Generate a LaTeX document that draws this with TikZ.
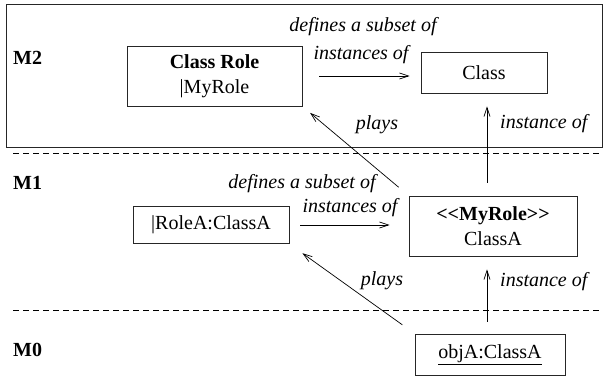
\documentclass[tikz,border=0pt]{standalone}
\usepackage{fontspec}
\setmainfont{Liberation Serif}
\usetikzlibrary{arrows.meta}
\begin{document}
\begin{tikzpicture}[x=1pt,y=-1pt]
	\tikzstyle{metabox} = [draw=black!85,line width=0.8pt,align=center,inner sep=0pt,font=\fontsize{20}{25}\selectfont]
	\tikzstyle{metaedge} = [-{Straight Barb[length=9pt,width=6pt]},line width=0.7pt]
	\tikzstyle{edgelbl} = [inner sep=0pt,font=\fontsize{20}{24}\selectfont\itshape]
	\tikzstyle{layerlbl} = [inner sep=0pt,anchor=west,font=\fontsize{20}{24}\selectfont\bfseries]
	\tikzstyle{layerline} = [dash pattern=on 6pt off 4pt,line width=0.6pt]

	\useasboundingbox (0,0) rectangle (603,378);

	% LAYERS %
	\draw[draw=black!85,line width=0.8pt] (6.5,4) rectangle (602.5,147);
	\draw[layerline] (13,153.5) -- (603,153.5);
	\draw[layerline] (13,310) -- (603,310);
	\node[layerlbl] (m2) at (13,58) {M2};
	\node[layerlbl] (m1) at (13,183) {M1};
	\node[layerlbl] (m0) at (13,350) {M0};

	% NODES %
	\node[metabox,minimum width=175pt,minimum height=60pt] (role2) at (214.5,76) {\textbf{Class Role}\\|MyRole};
	\node[metabox,minimum width=126pt,minimum height=41pt] (cls2) at (484,72.5) {Class};
	\node[metabox,minimum width=156pt,minimum height=37pt] (roleA) at (211,225) {|RoleA:ClassA};
	\node[metabox,minimum width=168pt,minimum height=60pt] (myrole) at (493,226) {\textbf{<{}<MyRole>{}>}\\ClassA};
	\node[metabox,minimum width=150pt,minimum height=41pt] (objA) at (490,354.5) {\underline{objA:ClassA}};
	\coordinate (ax) at (487,0);

	% LABELS %
	\node[edgelbl] (d2a) at (363,27) {defines a subset of};
	\node[edgelbl] (d2b) at (361,55) {instances of};
	\node[edgelbl] (p2) at (377,125) {plays};
	\node[edgelbl,anchor=west] (i2) at (500,124) {instance of};
	\node[edgelbl] (d1a) at (302,184) {defines a subset of};
	\node[edgelbl] (d1b) at (350,208) {instances of};
	\node[edgelbl] (p1) at (382,281) {plays};
	\node[edgelbl,anchor=west] (i1) at (500,282) {instance of};

	% EDGES %
	%M2
	\draw[metaedge,shorten <=17pt,shorten >=11pt] (role2.east) -- (role2.east -| cls2.west);
	\draw[metaedge,shorten <=13pt,shorten >=10pt] (myrole.north west) -- (role2.south east);
	\draw[metaedge,shorten <=13pt,shorten >=13pt] (myrole.north -| ax) -- (cls2.south -| ax);
	%M1
	\draw[metaedge,shorten <=11pt,shorten >=19pt] (roleA.east) -- (roleA.east -| myrole.west);
	\draw[metaedge,shorten <=15pt,shorten >=16pt] (objA.north west) -- (roleA.south east);
	\draw[metaedge,shorten <=12pt,shorten >=13pt] (objA.north -| ax) -- (myrole.south -| ax);
\end{tikzpicture}
\end{document}
